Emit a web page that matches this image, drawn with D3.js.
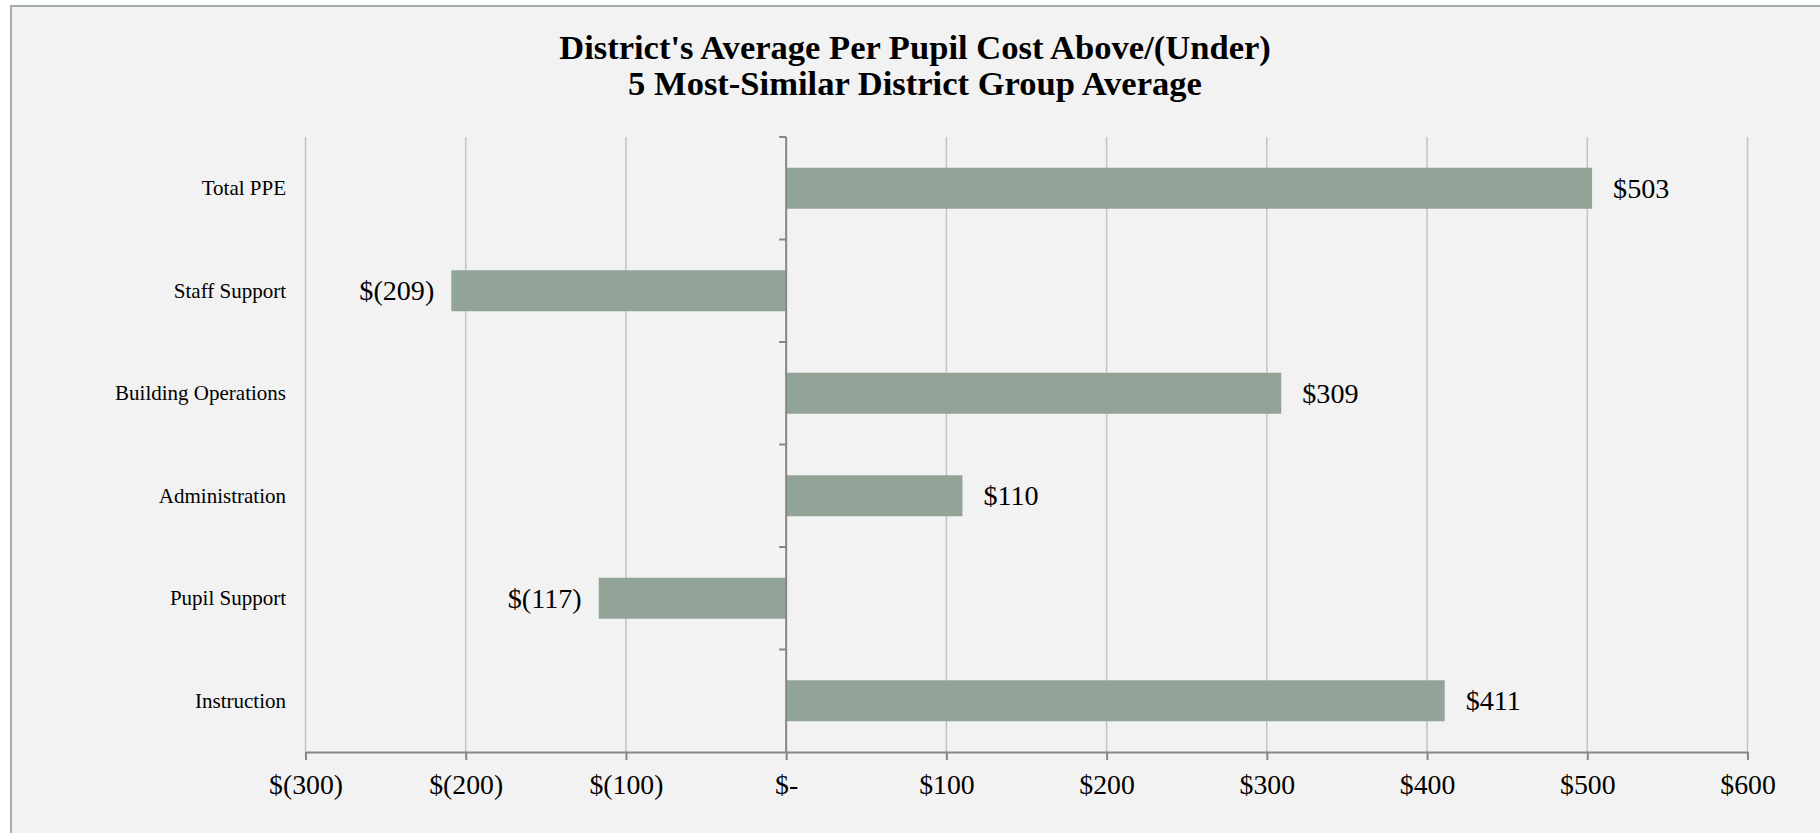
<!DOCTYPE html>
<html>
<head>
<meta charset="utf-8">
<script src="https://cdn.jsdelivr.net/npm/d3@7"></script>
<style>
  html, body { margin: 0; padding: 0; background: #ffffff; }
  svg { display: block; }
  text { font-family: "Liberation Serif", "DejaVu Serif", serif; fill: #000; }
</style>
</head>
<body>
<svg id="chart" width="1820" height="833"></svg>
<script>
const titleLines = ["District's Average Per Pupil Cost Above/(Under)", "5 Most-Similar District Group Average"];
const categories = ["Total PPE", "Staff Support", "Building Operations", "Administration", "Pupil Support", "Instruction"];
const values = [503, -209, 309, 110, -117, 411];
const tickValues = [-300, -200, -100, 0, 100, 200, 300, 400, 500, 600];
const tickLabels = ["$(300)", "$(200)", "$(100)", "$-", "$100", "$200", "$300", "$400", "$500", "$600"];

const W = 1820, H = 833;
const plot = { left: 305.5, right: 1747.5, top: 137, bottom: 752 };
const svg = d3.select("#chart");

// pick a font size so that a sample string has the wanted width
function fitSize(sample, targetWidth, weight) {
  const t = svg.append("text").attr("font-size", 100).attr("font-weight", weight || "normal").text(sample);
  const w = t.node().getComputedTextLength();
  t.remove();
  return 100 * targetWidth / w;
}
const titleSize = fitSize(titleLines[0], 712, "bold");
const catSize = fitSize("Building Operations", 171, "normal");
const dataSize = fitSize("$(209)", 75, "normal");
const tickSize = fitSize("$(300)", 74, "normal");

// chart area
svg.append("rect").attr("x", 11).attr("y", 6).attr("width", W).attr("height", H)
  .attr("fill", "#f2f2f2").attr("stroke", "#a4afa7").attr("stroke-width", 2);

const x = d3.scaleLinear().domain([-300, 600]).range([plot.left, plot.right]);
const y = d3.scaleBand().domain(categories).range([plot.top, plot.bottom])
  .paddingInner(0.6).paddingOuter(0.3);

// gridlines
svg.append("g").selectAll("line").data(tickValues.filter(v => v !== 0)).join("line")
  .attr("x1", d => x(d)).attr("x2", d => x(d))
  .attr("y1", plot.top).attr("y2", plot.bottom)
  .attr("stroke", "#c3c3c3").attr("stroke-width", 1.5);

// bars
svg.append("g").selectAll("rect").data(categories).join("rect")
  .attr("x", (d, i) => x(Math.min(0, values[i])))
  .attr("width", (d, i) => Math.abs(x(values[i]) - x(0)))
  .attr("y", d => y(d))
  .attr("height", y.bandwidth())
  .attr("fill", "#92a398");

// bottom axis
const xAxis = d3.axisBottom(x).tickValues(tickValues)
  .tickFormat((d, i) => tickLabels[i]).tickSizeInner(8).tickSizeOuter(0).tickPadding(10);
const gx = svg.append("g").attr("transform", `translate(0,${plot.bottom})`).call(xAxis);
gx.select(".domain").attr("stroke", "#868686").attr("stroke-width", 2);
gx.selectAll(".tick line").attr("stroke", "#868686").attr("stroke-width", 2);
gx.selectAll(".tick text").attr("font-size", tickSize).attr("font-family", "Liberation Serif")
  .attr("fill", "#000").attr("dy", null).attr("y", 32).attr("dominant-baseline", "central");

// vertical zero axis with category boundary ticks
const boundaries = categories.map(c => y(c) - y.step() * y.paddingInner() / 2);
boundaries[0] = plot.top;
svg.append("line").attr("x1", x(0)).attr("x2", x(0)).attr("y1", plot.top).attr("y2", plot.bottom)
  .attr("stroke", "#868686").attr("stroke-width", 2);
svg.append("g").selectAll("line").data(boundaries).join("line")
  .attr("x1", x(0) - 7).attr("x2", x(0)).attr("y1", d => d).attr("y2", d => d)
  .attr("stroke", "#868686").attr("stroke-width", 2);

// category labels
svg.append("g").selectAll("text").data(categories).join("text")
  .attr("x", 286).attr("y", d => y(d) + y.bandwidth() / 2)
  .attr("text-anchor", "end").attr("dominant-baseline", "central")
  .attr("font-size", catSize).text(d => d);

// data labels
const fmt = v => v < 0 ? `$(${Math.abs(v)})` : `$${v}`;
svg.append("g").selectAll("text").data(categories).join("text")
  .attr("x", (d, i) => values[i] < 0 ? x(values[i]) - 17 : x(values[i]) + 21)
  .attr("y", d => y(d) + y.bandwidth() / 2)
  .attr("text-anchor", (d, i) => values[i] < 0 ? "end" : "start")
  .attr("dominant-baseline", "central")
  .attr("font-size", dataSize).text((d, i) => fmt(values[i]));

// title
svg.append("g").selectAll("text").data(titleLines).join("text")
  .attr("x", 915).attr("y", (d, i) => 47 + i * 36)
  .attr("text-anchor", "middle").attr("dominant-baseline", "central")
  .attr("font-weight", "bold").attr("font-size", titleSize)
  .text(d => d);
</script>
</body>
</html>
